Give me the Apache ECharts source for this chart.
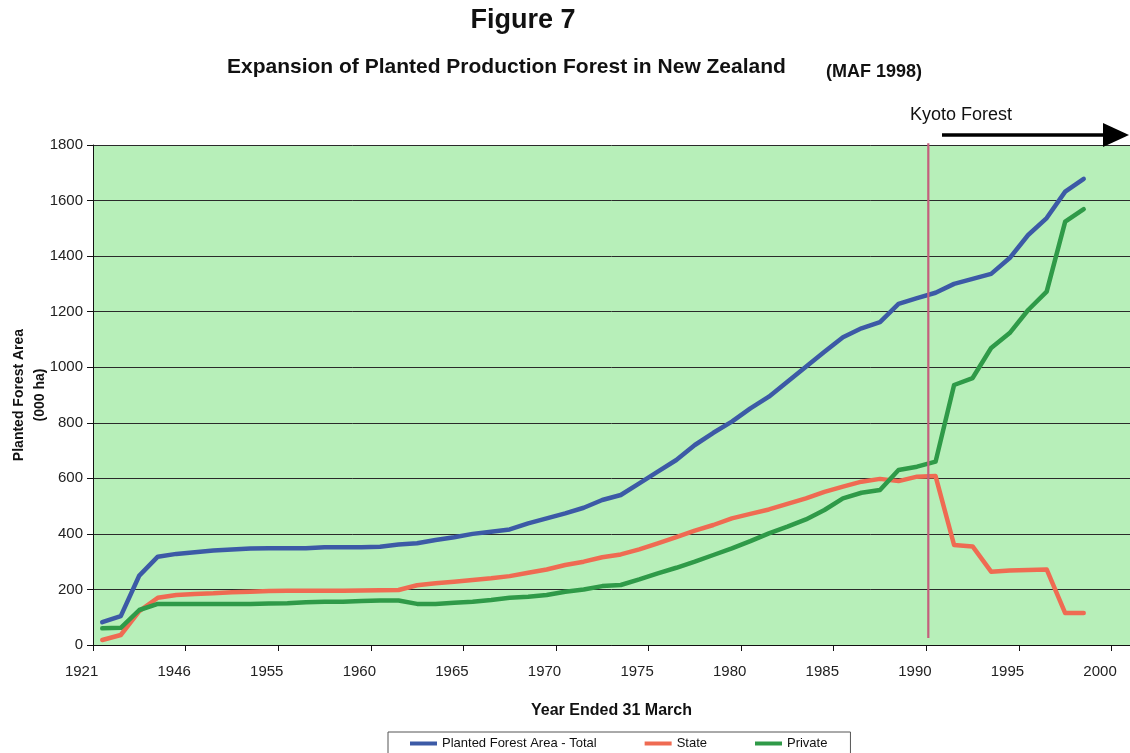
<!DOCTYPE html>
<html>
<head>
<meta charset="utf-8">
<script src="https://cdn.jsdelivr.net/npm/echarts@6/dist/echarts.min.js"></script>
<style>
  html, body { margin: 0; padding: 0; background: #ffffff; }
  #chart { width: 1130px; height: 753px; }
</style>
</head>
<body>
<div id="chart"></div>
<script>
// Year ended 31 March (early years are sparse, annual from 1955)
const categories = [
  '1921', '1926', '1931', '1936', '1941', '1946', '1948', '1950', '1952', '1954',
  '1955', '1956', '1957', '1958', '1959', '1960', '1961', '1962', '1963', '1964',
  '1965', '1966', '1967', '1968', '1969', '1970', '1971', '1972', '1973', '1974',
  '1975', '1976', '1977', '1978', '1979', '1980', '1981', '1982', '1983', '1984',
  '1985', '1986', '1987', '1988', '1989', '1990', '1991', '1992', '1993', '1994',
  '1995', '1996', '1997', '1998', '1999', '2000'
];

// Planted forest area, thousand hectares
const totalArea = [
  82, 104, 250, 318, 328, 334, 340, 344, 347, 348,
  348, 348, 352, 352, 352, 354, 362, 366, 378, 388,
  400, 408, 416, 438, 456, 474, 494, 522, 540, 582,
  624, 666, 720, 764, 804, 852, 894, 948, 1002, 1056,
  1108, 1140, 1162, 1228, 1249, 1268, 1300, 1318, 1336, 1393,
  1476, 1537, 1632, 1678
];
const stateArea = [
  18, 36, 122, 170, 180, 184, 186, 190, 192, 194,
  195, 195, 195, 195, 196, 197, 198, 215, 222, 228,
  234, 240, 248, 260, 272, 288, 300, 316, 326, 344,
  366, 388, 412, 432, 456, 472, 488, 508, 528, 551,
  570, 588, 598, 590, 606, 608, 360, 355, 264, 268,
  270, 272, 115, 115
];
const privateArea = [
  60, 62, 126, 148, 148, 148, 148, 148, 148, 149,
  150, 154, 156, 156, 158, 160, 160, 148, 148, 152,
  156, 162, 170, 174, 180, 192, 200, 212, 216, 236,
  258, 278, 300, 324, 348, 374, 402, 426, 452, 486,
  528, 548, 558, 630, 642, 660, 936, 961, 1069, 1123,
  1206, 1272, 1524, 1569
];

const seriesNames = ['Planted Forest Area - Total', 'State', 'Private'];
const seriesColors = ['#3c5aa6', '#ef6b52', '#2f9a48'];

const yMin = 0, yMax = 1800, yStep = 200;
const kyotoYear = '1990';
const kyotoLabel = 'Kyoto Forest';

const FONT = '"Liberation Sans", Arial, Helvetica, sans-serif';

const chart = echarts.init(document.getElementById('chart'), null, { renderer: 'canvas' });

function lineSeries(name, data, color) {
  return {
    name: name,
    type: 'line',
    data: data,
    showSymbol: false,
    symbol: 'none',
    smooth: false,
    color: color,
    lineStyle: { color: color, width: 4.5, cap: 'round', join: 'round' },
    emphasis: { disabled: true },
    animation: false
  };
}

chart.setOption({
  animation: false,
  backgroundColor: '#ffffff',
  title: [
    {
      text: 'Figure 7', left: 523, top: 7, textAlign: 'center', padding: 0,
      textStyle: { fontFamily: FONT, fontSize: 27, fontWeight: 'bold', color: '#111', lineHeight: 27 }
    },
    {
      text: 'Expansion of Planted Production Forest in New Zealand', left: 227, top: 57, padding: 0,
      textStyle: { fontFamily: FONT, fontSize: 21, fontWeight: 'bold', color: '#111', lineHeight: 21 }
    },
    {
      text: '(MAF 1998)', left: 826, top: 63, padding: 0,
      textStyle: { fontFamily: FONT, fontSize: 18, fontWeight: 'bold', color: '#111', lineHeight: 18 }
    },
    {
      text: kyotoLabel, left: 910, top: 106, padding: 0,
      textStyle: { fontFamily: FONT, fontSize: 18, fontWeight: 'normal', color: '#111', lineHeight: 18 }
    }
  ],
  legend: {
    data: seriesNames,
    left: 388, top: 732,
    orient: 'horizontal',
    padding: [5, 23, 5, 22],
    itemGap: 48,
    itemWidth: 27, itemHeight: 4,
    icon: 'rect',
    borderColor: '#555', borderWidth: 1,
    backgroundColor: '#ffffff',
    textStyle: { fontFamily: FONT, fontSize: 13, color: '#111' },
    selectedMode: false
  },
  grid: {
    left: 93, right: 0, top: 145, bottom: 108,
    show: true, backgroundColor: '#b7efb9', borderWidth: 0,
    containLabel: false, outerBoundsMode: 'none'
  },
  xAxis: {
    type: 'category',
    data: categories,
    boundaryGap: true,
    name: 'Year Ended 31 March',
    nameLocation: 'middle',
    nameGap: 58,
    nameMoveOverlap: false,
    nameTextStyle: { fontFamily: FONT, fontSize: 16, fontWeight: 'bold', color: '#111' },
    axisLine: { show: true, onZero: false, lineStyle: { color: '#111', width: 1 } },
    axisTick: { show: true, interval: 4, length: 6, inside: false, alignWithLabel: false, lineStyle: { color: '#111', width: 1 } },
    axisLabel: {
      interval: 4, margin: 19, align: 'right', padding: [0, 4, 0, 0],
      fontFamily: FONT, fontSize: 15, color: '#222', hideOverlap: false
    },
    splitLine: { show: false }
  },
  yAxis: {
    type: 'value',
    min: yMin, max: yMax, interval: yStep,
    name: 'Planted Forest Area\n(000 ha)',
    nameLocation: 'middle',
    nameRotate: 90,
    nameGap: 42,
    nameMoveOverlap: false,
    nameTextStyle: { fontFamily: FONT, fontSize: 14, fontWeight: 'bold', color: '#111', lineHeight: 21, align: 'center' },
    axisLine: { show: true, lineStyle: { color: '#111', width: 1 } },
    axisTick: { show: true, length: 6, inside: false, lineStyle: { color: '#111', width: 1 } },
    axisLabel: {
      margin: 10, fontFamily: FONT, fontSize: 15, color: '#222',
      formatter: function (v) { return String(v); }
    },
    splitLine: { show: true, lineStyle: { color: '#2a2a2a', width: 1 } }
  },
  series: [
    lineSeries(seriesNames[0], totalArea, seriesColors[0]),
    lineSeries(seriesNames[1], stateArea, seriesColors[1]),
    lineSeries(seriesNames[2], privateArea, seriesColors[2])
  ]
});

// Kyoto boundary: vertical rule at the 1990 tick, plus the arrow pointing forward in time
const xCenter1990 = chart.convertToPixel({ xAxisIndex: 0 }, kyotoYear);
const xCenter1991 = chart.convertToPixel({ xAxisIndex: 0 }, '1991');
const band = xCenter1991 - xCenter1990;
const xKyoto = xCenter1990 - band / 2 + 2;
const yRuleTop = chart.convertToPixel({ yAxisIndex: 0 }, 1806);
const yRuleBottom = chart.convertToPixel({ yAxisIndex: 0 }, 25);

chart.setOption({
  graphic: [
    {
      type: 'line', z: 50,
      shape: { x1: xKyoto, y1: yRuleTop, x2: xKyoto, y2: yRuleBottom },
      style: { stroke: '#c45f7c', lineWidth: 2.2 }
    },
    {
      type: 'line', z: 50,
      shape: { x1: 942, y1: 135, x2: 1106, y2: 135 },
      style: { stroke: '#000000', lineWidth: 3.5 }
    },
    {
      type: 'polygon', z: 50,
      shape: { points: [[1103, 123], [1129, 135], [1103, 147]] },
      style: { fill: '#000000' }
    }
  ]
});
</script>
</body>
</html>
